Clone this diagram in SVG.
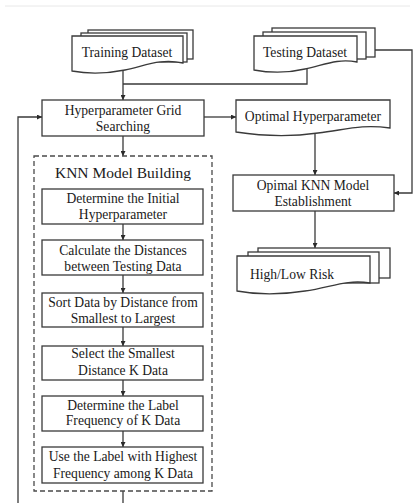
<svg xmlns="http://www.w3.org/2000/svg" width="416" height="503" viewBox="0 0 416 503" font-family="'Liberation Serif', 'DejaVu Serif', serif">
  <style>
    .box { fill: #fff; stroke: #3a3a3a; stroke-width: 1.3; }
    .doc { fill: #fff; stroke: #3a3a3a; stroke-width: 1.3; stroke-linejoin: miter; }
    .wire { fill: none; stroke: #3a3a3a; stroke-width: 1.3; }
    .dash { fill: none; stroke: #4a4a4a; stroke-width: 1.3; stroke-dasharray: 5 3; }
    text { font-family: 'Liberation Serif', 'DejaVu Serif', serif; font-size: 13.6px; fill: #1a1a1a; text-anchor: middle; }
    .title { font-size: 15.5px; }
  </style>
  <defs>
    <marker id="arrow" viewBox="0 0 8 8" refX="8" refY="4" markerWidth="5" markerHeight="5" orient="auto" markerUnits="userSpaceOnUse">
      <path d="M0,0 L8,4 L0,8 Z" fill="#2a2a2a"/>
    </marker>
  </defs>

  <rect width="416" height="503" fill="#fff"/>
  <line x1="5" y1="6" x2="410" y2="6" stroke="#e8e8e8" stroke-width="1"/>

  <!-- connectors -->
  <g id="connectors">
    <polyline class="wire" points="123,70 123,100" marker-end="url(#arrow)"/>
    <polyline class="wire" points="307,68 307,84 123,84"/>
    <polyline class="wire" points="204,117 236,117" marker-end="url(#arrow)"/>
    <polyline class="wire" points="315,132 315,175" marker-end="url(#arrow)"/>
    <polyline class="wire" points="375,50 412,50 412,193 394,193" marker-end="url(#arrow)"/>
    <polyline class="wire" points="315,211 315,248" marker-end="url(#arrow)"/>
    <polyline class="wire" points="123,136 123,156" marker-end="url(#arrow)"/>
    <polyline class="wire" points="18,503 18,117 42,117" marker-end="url(#arrow)"/>
    <polyline class="wire" points="123,491 123,503"/>
    <polyline class="wire" points="123,224 123,240" marker-end="url(#arrow)"/>
    <polyline class="wire" points="123,275 123,293" marker-end="url(#arrow)"/>
    <polyline class="wire" points="123,327 123,346" marker-end="url(#arrow)"/>
    <polyline class="wire" points="123,380 123,396" marker-end="url(#arrow)"/>
    <polyline class="wire" points="123,431 123,447" marker-end="url(#arrow)"/>
  </g>

  <!-- Training Dataset (stacked documents) -->
  <g id="training-dataset">
    <rect class="doc" x="88" y="30" width="105" height="29"/>
    <rect class="doc" x="81" y="33" width="106" height="29"/>
    <path class="doc" d="M72,36 H183 V63 C160,58 145,66 125,70 C105,74 88,74 72,71 Z"/>
    <text x="127" y="57">Training Dataset</text>
  </g>

  <!-- Testing Dataset (stacked documents) -->
  <g id="testing-dataset">
    <rect class="doc" x="272" y="28" width="103" height="29"/>
    <rect class="doc" x="263" y="32" width="103" height="27"/>
    <path class="doc" d="M254,36 H357 V62 C336,58 322,66 305,69 C288,73 270,73 254,70 Z"/>
    <text x="305" y="57">Testing Dataset</text>
  </g>

  <!-- Hyperparameter Grid Searching -->
  <g id="grid-search">
    <rect class="box" x="42" y="100" width="162" height="36"/>
    <text x="123" y="115">Hyperparameter Grid</text>
    <text x="123" y="131">Searching</text>
  </g>

  <!-- Optimal Hyperparameter (document) -->
  <g id="optimal-hyperparameter">
    <path class="doc" d="M236,100 H390 V128 C360,124 345,130 318,133 C290,137 262,136 236,132 Z"/>
    <text x="313" y="121">Optimal Hyperparameter</text>
  </g>

  <!-- Optimal KNN Model Establishment -->
  <g id="optimal-knn">
    <rect class="box" x="233" y="175" width="161" height="36"/>
    <text x="313" y="190">Opimal KNN Model</text>
    <text x="313" y="206">Establishment</text>
  </g>

  <!-- High/Low Risk (stacked documents) -->
  <g id="risk-output">
    <rect class="doc" x="258" y="248" width="132" height="30"/>
    <rect class="doc" x="248" y="252" width="131" height="31"/>
    <path class="doc" d="M237,256 H370 V283 C345,279 330,288 305,291 C280,295 258,295 237,291 Z"/>
    <text x="292" y="279">High/Low Risk</text>
  </g>

  <!-- KNN Model Building container -->
  <g id="knn-building">
    <rect class="dash" x="34" y="156" width="178" height="335"/>
    <text class="title" x="123" y="178">KNN Model Building</text>
  </g>

  <g id="step-initial">
    <rect class="box" x="42" y="189" width="161" height="35"/>
    <text x="123" y="203">Determine the Initial</text>
    <text x="123" y="219">Hyperparameter</text>
  </g>

  <g id="step-distances">
    <rect class="box" x="42" y="240" width="161" height="35"/>
    <text x="123" y="255">Calculate the Distances</text>
    <text x="123" y="271">between Testing Data</text>
  </g>

  <g id="step-sort">
    <rect class="box" x="42" y="293" width="161" height="34"/>
    <text x="123" y="307">Sort Data by Distance from</text>
    <text x="123" y="323">Smallest to Largest</text>
  </g>

  <g id="step-select">
    <rect class="box" x="42" y="346" width="161" height="34"/>
    <text x="123" y="358">Select the Smallest</text>
    <text x="123" y="375">Distance K Data</text>
  </g>

  <g id="step-frequency">
    <rect class="box" x="42" y="396" width="161" height="35"/>
    <text x="123" y="410">Determine the Label</text>
    <text x="123" y="425">Frequency of K Data</text>
  </g>

  <g id="step-vote">
    <rect class="box" x="42" y="447" width="161" height="36"/>
    <text x="123" y="461">Use the Label with Highest</text>
    <text x="123" y="478">Frequency among K Data</text>
  </g>
</svg>
